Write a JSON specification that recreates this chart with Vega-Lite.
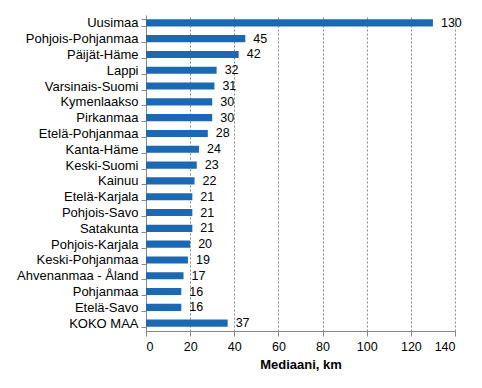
{
  "$schema": "https://vega.github.io/schema/vega-lite/v6.json",
  "width": 309,
  "height": 316,
  "autosize": "none",
  "padding": {"left": 146, "top": 15, "right": 27, "bottom": 57},
  "background": "white",
  "config": {
    "font": "Liberation Sans",
    "view": {"stroke": null}
  },
  "data": {
    "values": [
      {"region": "Uusimaa", "km": 130},
      {"region": "Pohjois-Pohjanmaa", "km": 45},
      {"region": "Päijät-Häme", "km": 42},
      {"region": "Lappi", "km": 32},
      {"region": "Varsinais-Suomi", "km": 31},
      {"region": "Kymenlaakso", "km": 30},
      {"region": "Pirkanmaa", "km": 30},
      {"region": "Etelä-Pohjanmaa", "km": 28},
      {"region": "Kanta-Häme", "km": 24},
      {"region": "Keski-Suomi", "km": 23},
      {"region": "Kainuu", "km": 22},
      {"region": "Etelä-Karjala", "km": 21},
      {"region": "Pohjois-Savo", "km": 21},
      {"region": "Satakunta", "km": 21},
      {"region": "Pohjois-Karjala", "km": 20},
      {"region": "Keski-Pohjanmaa", "km": 19},
      {"region": "Ahvenanmaa - Åland", "km": 17},
      {"region": "Pohjanmaa", "km": 16},
      {"region": "Etelä-Savo", "km": 16},
      {"region": "KOKO MAA", "km": 37}
    ]
  },
  "encoding": {
    "y": {
      "field": "region",
      "type": "nominal",
      "sort": null,
      "scale": {"paddingInner": 0.55, "paddingOuter": 0.27},
      "axis": {
        "title": null,
        "tickBand": "extent",
        "domainColor": "#888888",
        "tickColor": "#888888",
        "tickSize": 5,
        "labelFontSize": 13,
        "labelColor": "#000000",
        "labelPadding": 3
      }
    },
    "x": {
      "field": "km",
      "type": "quantitative",
      "scale": {"domain": [0, 140], "nice": false},
      "axis": {
        "title": "Mediaani, km",
        "titleFontSize": 13,
        "titleFontWeight": "bold",
        "titleColor": "#000000",
        "titlePadding": 6,
        "values": [0, 20, 40, 60, 80, 100, 120, 140],
        "grid": true,
        "gridDash": [2, 2],
        "gridColor": "#888888",
        "domainColor": "#888888",
        "tickColor": "#888888",
        "tickSize": 5,
        "labelFontSize": 12.5,
        "labelColor": "#000000",
        "labelPadding": 4
      }
    }
  },
  "layer": [
    {"mark": {"type": "bar", "color": "#1c69b3"}},
    {
      "mark": {"type": "text", "align": "left", "dx": 8, "fontSize": 12.5, "color": "#000000"},
      "encoding": {"text": {"field": "km", "type": "quantitative"}}
    }
  ]
}
